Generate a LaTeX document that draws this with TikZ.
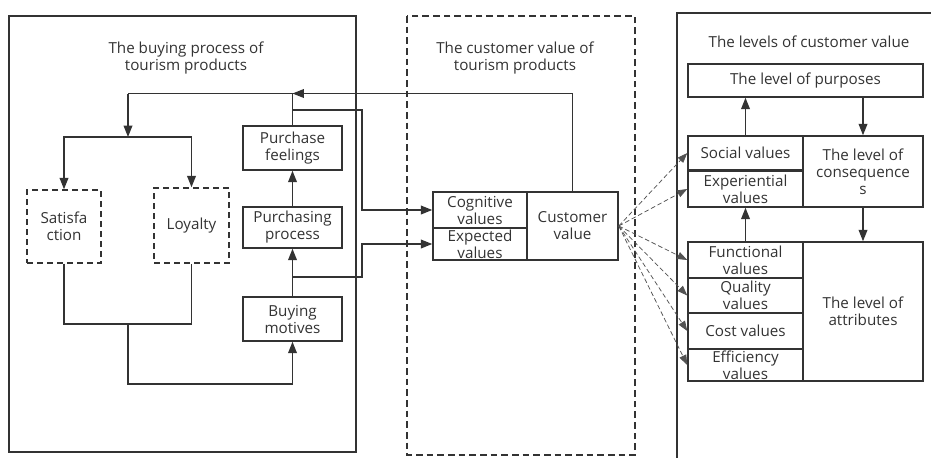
\documentclass[tikz,border=0pt]{standalone}
\usepackage{fontspec}
\setmainfont{Open Sans}
\usetikzlibrary{arrows.meta}

\definecolor{ink}{HTML}{333333}

\begin{document}
\begin{tikzpicture}[
  x=0.75pt,
  y=-0.75pt,
  every node/.style={font=\fontsize{11.4}{12.75}\selectfont, text=ink, align=center},
  frame/.style={draw=ink, line width=1.3pt},
  dashframe/.style={draw=ink, line width=1.3pt, dash pattern=on 5pt off 3pt},
  stagebox/.style={draw=ink, line width=1.1pt, inner sep=0pt, minimum width=74.25pt},
  feedbox/.style={draw=ink, line width=1.1pt, inner sep=0pt, dash pattern=on 4.5pt off 3pt},
  valuecell/.style={draw=ink, line width=1.1pt, inner sep=0pt, minimum width=86.25pt},
  levelcell/.style={draw=ink, line width=1.1pt, inner sep=0pt, minimum width=90pt},
  link/.style={draw=ink, line width=1.05pt},
  flow/.style={link, -{Triangle[length=8.5pt, width=6.5pt]}},
  hint/.style={draw=ink!85, line width=0.55pt, dash pattern=on 3.5pt off 2pt,
    -{Triangle[length=7.5pt, width=5.5pt]}}
]
  \useasboundingbox (0,0) rectangle (931,457);
  \clip (0,0) rectangle (931,457);

  % three panels
  \draw[frame] (9,16) rectangle (356,452);
  \draw[dashframe] (407,16) rectangle (635,455);
  \draw[frame] (677,13) rectangle (945,470);
  \node (buyTitle) at (186,58) {The buying process of\\tourism products};
  \node (valTitle) at (515,58) {The customer value of\\tourism products};
  \node (lvlTitle) at (809,42) {The levels of customer value};

  % buying process
  \node[stagebox, minimum height=33pt] (feel) at (292.5,148) {Purchase\\feelings};
  \node[stagebox, minimum height=30.75pt] (proc) at (292.5,227.5) {Purchasing\\process};
  \node[stagebox, minimum height=33pt] (motive) at (292.5,319) {Buying\\motives};
  \node[feedbox, minimum width=55.5pt, minimum height=54.75pt] (sat) at (64,226.5) {Satisfa\\ction};
  \node[feedbox, minimum width=56.25pt, minimum height=56.25pt] (loy) at (191.5,225.5) {Loyalty};

  % customer value
  \node[draw=ink, line width=1.1pt, inner sep=0pt, minimum width=70.5pt, minimum height=27pt]
    (cog) at (480,210) {Cognitive\\values};
  \node[draw=ink, line width=1.1pt, inner sep=0pt, minimum width=70.5pt, minimum height=24pt]
    (exp) at (480,244) {Expected\\values};
  \node[draw=ink, line width=1.1pt, inner sep=0pt, minimum width=68.25pt, minimum height=51pt]
    (cv) at (572.5,226) {Customer\\value};

  % levels of customer value
  \node[draw=ink, line width=1.1pt, inner sep=0pt, minimum width=176.25pt, minimum height=24.75pt]
    (purp) at (805.5,80.5) {The level of purposes};
  \node[valuecell, minimum height=25.5pt] (soc) at (745.5,153) {Social values};
  \node[valuecell, minimum height=27pt] (expr) at (745.5,189) {Experiential\\values};
  \node[levelcell, minimum height=53.25pt] (cons) at (863,171.5) {The level of\\consequence\\s};
  \node[valuecell, minimum height=27pt] (func) at (745.5,260) {Functional\\values};
  \node[valuecell, minimum height=26.25pt] (qual) at (745.5,295.5) {Quality\\values};
  \node[valuecell, minimum height=27pt] (cost) at (745.5,331) {Cost values};
  \node[valuecell, minimum height=24pt] (eff) at (745.5,365) {Efficiency\\values};
  \node[levelcell, minimum height=104.25pt] (attr) at (863,311.5) {The level of\\attributes};

  % junctions
  \coordinate (jtop) at (292.5,93.5);
  \coordinate (jsplit) at (128,137);
  \coordinate (jbot) at (128,324);
  \coordinate (jback) at (128,384);
  \coordinate (jfeel) at (292.5,110);
  \coordinate (jproc) at (292.5,277);
  \coordinate (busA) at (362,110);
  \coordinate (busB) at (362,277);

  % feedback loop
  \draw[flow] (cv.north) |- (jtop);
  \draw[link] (feel.north) -- (jtop) -- (jtop -| jsplit);
  \draw[flow] (jtop -| jsplit) -- (jsplit);
  \draw[flow] (jsplit) -| (sat.north);
  \draw[flow] (jsplit) -| (loy.north);
  \draw[link] (sat.south) |- (jbot) -| (loy.south);
  \draw[flow] (jbot) -- (jback) -| (motive.south);
  \draw[flow] (motive) -- (proc);
  \draw[flow] (proc) -- (feel);

  % into the customer value
  \draw[flow] (jfeel) -- (busA) |- (cog.west);
  \draw[flow] (jproc) -- (busB) |- (exp.west);

  \foreach \c in {soc,expr,func,qual,cost,eff} {
    \draw[hint] (cv.east) -- (\c.west);
  }

  % between the levels
  \draw[flow] (soc.north) -- (soc.north |- purp.south);
  \draw[flow] (purp.south -| cons.north) -- (cons.north);
  \draw[flow] (func.north) -- (expr.south);
  \draw[flow] (cons.south) -- (attr.north);
\end{tikzpicture}
\end{document}
